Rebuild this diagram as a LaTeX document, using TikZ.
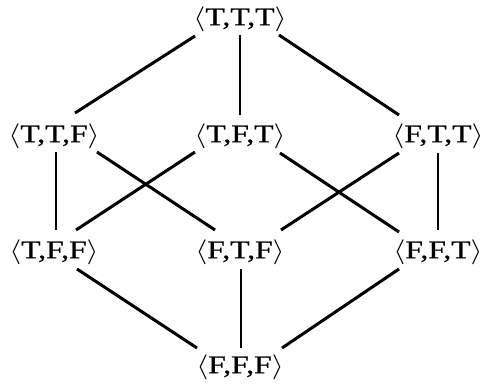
\documentclass[tikz,border=0pt]{standalone}
\usepackage{fontspec}
\setmainfont{Liberation Serif}[FakeBold=0.8]
\newcommand{\tvlabel}[1]{\scalebox{1.24}[1]{$\langle$#1$\rangle$}}
\begin{document}
\begin{tikzpicture}[x=1pt,y=1pt,
  tv/.style={inner sep=0pt, font=\fontsize{25.5}{29}\selectfont},
  edge/.style={line width=3pt},
  vedge/.style={line width=2.4pt}]
\useasboundingbox (0,0) rectangle (484,-385);
\node[tv] (ttt) at (240,-19) {\tvlabel{T,T,T}};
\node[tv] (ttf) at (54,-136) {\tvlabel{T,T,F}};
\node[tv] (tft) at (240,-136) {\tvlabel{T,F,T}};
\node[tv] (ftt) at (438,-136) {\tvlabel{F,T,T}};
\node[tv] (tff) at (54,-252) {\tvlabel{T,F,F}};
\node[tv] (ftf) at (240,-252) {\tvlabel{F,T,F}};
\node[tv] (fft) at (438,-252) {\tvlabel{F,F,T}};
\node[tv] (fff) at (240,-367) {\tvlabel{F,F,F}};
% top
\draw[edge] ([shift={(-45,-17)}]ttt.center) -- ([shift={(21,23)}]ttf.center);
\draw[vedge] ([shift={(0,-16)}]ttt.center) -- ([shift={(0,21)}]tft.center);
\draw[edge] ([shift={(39,-16)}]ttt.center) -- ([shift={(-39,21)}]ftt.center);
% middle
\draw[vedge] ([shift={(2,-16)}]ttf.center) -- ([shift={(2,22)}]tff.center);
\draw[edge] ([shift={(43,-16)}]ttf.center) -- ([shift={(-25,22)}]ftf.center);
\draw[edge] ([shift={(-45,-16)}]tft.center) -- ([shift={(22,22)}]tff.center);
\draw[edge] ([shift={(40,-17)}]tft.center) -- ([shift={(-39,20)}]fft.center);
\draw[edge] ([shift={(-39,-17)}]ftt.center) -- ([shift={(41,22)}]ftf.center);
\draw[vedge] ([shift={(0,-17)}]ftt.center) -- ([shift={(0,22)}]fft.center);
% bottom
\draw[edge] ([shift={(23,-17)}]tff.center) -- ([shift={(-43,19)}]fff.center);
\draw[vedge] ([shift={(1,-17)}]ftf.center) -- ([shift={(1,19)}]fff.center);
\draw[edge] ([shift={(-39,-17)}]fft.center) -- ([shift={(42,19)}]fff.center);
\end{tikzpicture}
\end{document}
